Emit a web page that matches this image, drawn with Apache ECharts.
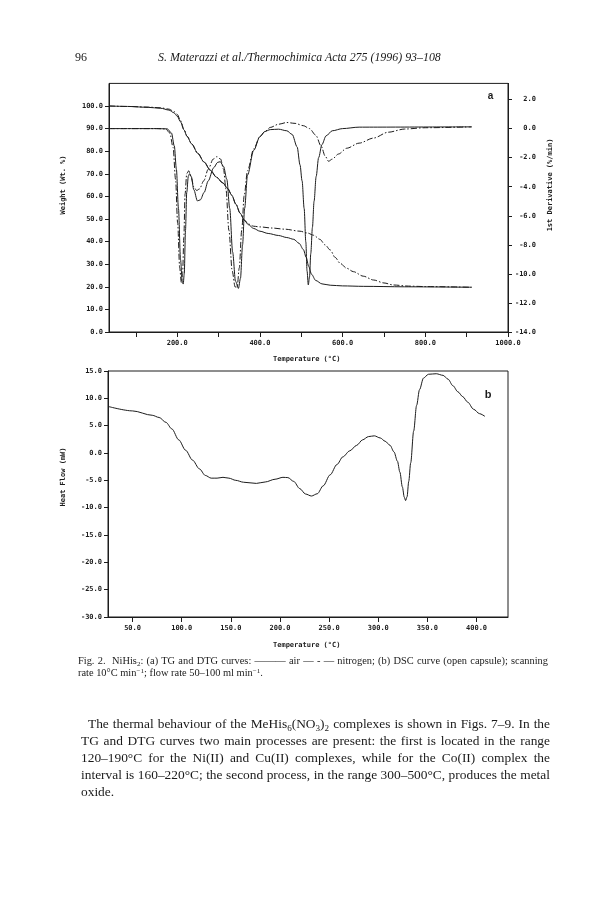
<!DOCTYPE html>
<html>
<head>
<meta charset="utf-8">
<script src="https://cdn.jsdelivr.net/npm/echarts@6/dist/echarts.min.js"></script>
<style>
  html, body { margin:0; padding:0; background:#fff; }
  #page { position:relative; width:615px; height:903px; overflow:hidden; background:#fff; }
  #chart { position:absolute; left:0; top:0; width:615px; height:903px; }
  .txt { position:absolute; font-family:"Liberation Serif","DejaVu Serif",serif; color:#1a1a1a; }
  .txt .ln { white-space:nowrap; text-align:justify; text-align-last:justify; }
  .txt .ln.last { text-align-last:left; }
  sub, sup { font-size:0.68em; line-height:0; }
  sub { vertical-align:-0.3em; }
  sup { vertical-align:0.45em; }
</style>
</head>
<body>
<div id="page">
  <div id="chart"></div>
  <div class="txt" style="left:75px; top:50px; font-size:12px;">96</div>
  <div class="txt" style="left:158px; top:50px; font-size:11.9px; font-style:italic;">S. Materazzi et al./Thermochimica Acta 275 (1996) 93–108</div>
  <div class="txt" style="left:78px; top:655px; width:470px; font-size:10.4px; line-height:12px;">
    <div class="ln" style="white-space:normal;">Fig. 2.&nbsp; NiHis<sub>2</sub>: (a) TG and DTG curves: ——— air — - — nitrogen; (b) DSC curve (open capsule); scanning</div>
    <div class="ln last">rate 10°C min<sup>−1</sup>; flow rate 50–100 ml min<sup>−1</sup>.</div>
  </div>
  <div class="txt" style="left:81px; top:715px; width:469px; font-size:13.4px; line-height:17px;">
    <div class="ln" style="white-space:normal; padding-left:7px;">The thermal behaviour of the MeHis<sub>6</sub>(NO<sub>3</sub>)<sub>2</sub> complexes is shown in Figs. 7–9. In the</div>
    <div class="ln" style="white-space:normal;">TG and DTG curves two main processes are present: the first is located in the range</div>
    <div class="ln" style="white-space:normal;">120–190°C for the Ni(II) and Cu(II) complexes, while for the Co(II) complex the</div>
    <div class="ln" style="white-space:normal;">interval is 160–220°C; the second process, in the range 300–500°C, produces the metal</div>
    <div class="ln last">oxide.</div>
  </div>
</div>
<script>
// ---- Data (temperature °C, value) ----
const tgAir = [[35,100],[80,99.8],[130,99.4],[160,99],[180,98.2],[192,97],[200,95.5],[208,93],[216,89.5],[224,86.5],[235,83.2],[250,79],[265,75.2],[280,71.6],[295,68.5],[310,66],[322,63.5],[332,60.5],[342,56.5],[352,52.6],[362,49.5],[372,47.5],[385,45.8],[400,44.6],[420,43.6],[445,42.7],[465,41.8],[482,41],[495,39.2],[505,36.5],[512,33],[518,29],[525,25.5],[535,22.8],[550,21.3],[570,20.7],[600,20.4],[650,20.2],[750,20],[912,19.8]];
const tgN2 = [[35,100],[80,99.8],[130,99.5],[160,99.2],[180,98.6],[192,97.6],[200,96.3],[208,93.6],[216,89.8],[224,86.6],[235,83.2],[250,79],[265,75.2],[280,71.6],[295,68.5],[310,66],[322,63.5],[332,60.5],[342,56.5],[352,52.6],[362,49.6],[372,47.8],[385,46.8],[400,46.5],[430,46],[460,45.5],[497,44.6],[515,43.8],[530,42.8],[545,41],[558,38.5],[570,36.3],[582,33],[594,30.4],[610,28.2],[626,26.7],[650,24.7],[675,23],[700,21.7],[723,20.8],[760,20.3],[800,20.1],[912,19.8]];
const dtgAir = [[35,0],[150,0],[176,-0.02],[186,-0.3],[193,-1.2],[198,-2.8],[203,-5.5],[208,-9.0],[212,-10.5],[214.5,-10.7],[217,-10.0],[220,-7.0],[223,-4.4],[227,-3.25],[230,-3.1],[234,-3.3],[240,-4.2],[249,-4.98],[256,-4.9],[265,-4.4],[275,-3.6],[288,-2.7],[298,-2.32],[304,-2.28],[312,-2.6],[320,-3.5],[327,-5.5],[334,-8.5],[341,-10.5],[348,-11.0],[353,-10.3],[358,-8],[363,-5.5],[370,-3.2],[385,-1.5],[400,-0.55],[412,-0.2],[425,-0.07],[445,-0.04],[465,-0.15],[478,-0.4],[490,-1.26],[497,-2.5],[502,-3.6],[507,-5.5],[511,-7.8],[514,-9.8],[517,-10.76],[520,-10.2],[523,-8.6],[527,-6.8],[531,-5.0],[536,-3.3],[542,-2.0],[550,-1.1],[560,-0.5],[575,-0.15],[600,0],[640,0.1],[912,0.12]];
const dtgN2 = [[35,0],[150,0],[172,-0.02],[182,-0.3],[190,-1.3],[196,-3.5],[201,-6.5],[206,-9.6],[210,-10.6],[213,-10.0],[216,-7.5],[219,-4.5],[223,-3.1],[228,-2.9],[234,-3.4],[240,-4.0],[247,-4.26],[254,-4.15],[264,-3.6],[275,-2.8],[287,-2.1],[296,-1.93],[305,-2.1],[312,-2.8],[318,-4.2],[325,-7],[333,-9.8],[340,-10.9],[345,-10.9],[350,-9.6],[356,-7],[362,-4.6],[370,-2.9],[385,-1.4],[400,-0.55],[412,-0.2],[425,0.08],[445,0.3],[465,0.42],[485,0.36],[505,0.2],[520,0.0],[535,-0.45],[548,-1.2],[558,-1.9],[566,-2.25],[575,-2.1],[590,-1.75],[610,-1.35],[640,-1.0],[675,-0.65],[710,-0.25],[750,-0.03],[800,0.06],[912,0.12]];
const dsc = [[25.5,8.5],[50,7.7],[70,6.9],[77,6.5],[84,5.6],[90,4.4],[97,2.4],[104,0.5],[111,-1.3],[118,-2.9],[124,-4.1],[130,-4.6],[136,-4.6],[142,-4.45],[148,-4.6],[155,-5.0],[163,-5.35],[176,-5.56],[185,-5.3],[195,-4.8],[203,-4.45],[208,-4.5],[214,-5.2],[220,-6.5],[226,-7.5],[232,-7.87],[238,-7.45],[244,-6.0],[251,-4.0],[258,-2.1],[264,-0.7],[271,0.4],[278,1.4],[284,2.4],[290,3.0],[296,3.14],[302,2.75],[307,2.15],[312,1.4],[316,0.2],[319.5,-1.5],[322,-3.5],[324.5,-6.2],[326.5,-8.1],[327.8,-8.7],[329.3,-8.0],[331,-5.2],[333,-1.8],[336,4.0],[339,8.7],[342,11.6],[346,13.7],[351,14.4],[359,14.5],[366,14.2],[371,13.5],[376,12.3],[381,11.2],[386,10.3],[391,9.3],[397,8.0],[403,7.2],[408.5,6.7]];
const topXTicks = [100,200,300,400,500,600,700,800,900,1000];
const topXLabels = [200,400,600,800,1000];
const wtTicks = [0,10,20,30,40,50,60,70,80,90,100];
const derivTicks = [-14,-12,-10,-8,-6,-4,-2,0,2];
const dscXTicks = [50,100,150,200,250,300,350,400];
const dscYTicks = [-30,-25,-20,-15,-10,-5,0,5,10,15];

const ink = '#1c1c1c';
const mono = '"DejaVu Sans Mono","Liberation Mono",monospace';
const lab = { fontSize:7, fontFamily:mono, fontWeight:'bold', color:ink };
const fmt = v => Number(v).toFixed(1);

function xAx(grid, min, max, ticks, labels) {
  return { type:'value', gridIndex:grid, min:min, max:max,
    axisLine:{ show:true, onZero:false, lineStyle:{ color:ink, width:1 } },
    axisTick:{ show:true, inside:false, length:5, customValues:ticks, lineStyle:{ color:ink } },
    axisLabel:Object.assign({ customValues:labels, formatter:fmt, margin:8, showMinLabel:true, showMaxLabel:true }, lab),
    splitLine:{ show:false } };
}
function yAx(grid, min, max, ticks, pos, margin, align) {
  return { type:'value', gridIndex:grid, min:min, max:max, position:pos,
    axisLine:{ show:true, onZero:false, lineStyle:{ color:ink, width:1 } },
    axisTick:{ show:true, inside:false, length:4, customValues:ticks, lineStyle:{ color:ink } },
    axisLabel:Object.assign({ customValues:ticks, formatter:fmt, margin:margin, align:align }, lab),
    splitLine:{ show:false } };
}
const rightMax = -14 + 110 * 14 / 90;

const line = (data, xi, yi, dash) => ({
  type:'line', data:data, xAxisIndex:xi, yAxisIndex:yi, showSymbol:false, symbol:'none',
  smooth:0.3, smoothMonotone:'x', animation:false, silent:true,
  lineStyle:{ color:ink, width:1, type: dash ? [6,2,1.5,2] : 'solid' }
});

const nameText = (x, y, text, rot) => ({
  type:'text', x:x, y:y, rotation: rot ? Math.PI/2 : 0, silent:true,
  style:{ text:text, fill:ink, font:'bold 7px ' + mono, align:'center', verticalAlign:'middle' }
});

const chart = echarts.init(document.getElementById('chart'), null, { renderer:'canvas' });
chart.setOption({
  backgroundColor:'#ffffff',
  animation:false,
  grid:[
    { left:109, top:83.4, width:399, height:248.6, show:true, borderColor:ink, borderWidth:1, backgroundColor:'transparent' },
    { left:108, top:371, width:400, height:246, show:true, borderColor:ink, borderWidth:1, backgroundColor:'transparent' }
  ],
  xAxis:[ xAx(0, 35, 1000, topXTicks, topXLabels), xAx(1, 25, 432, dscXTicks, dscXTicks) ],
  yAxis:[
    yAx(0, 0, 110, wtTicks, 'left', 6, 'right'),
    yAx(0, -14, rightMax, derivTicks, 'right', 28, 'right'),
    yAx(1, -30, 15, dscYTicks, 'left', 6, 'right')
  ],
  series:[
    line(tgAir, 0, 0, false),
    line(tgN2, 0, 0, true),
    line(dtgAir, 0, 1, false),
    line(dtgN2, 0, 1, true),
    line(dsc, 1, 2, false)
  ],
  graphic:[
    nameText(63, 185, 'Weight (Wt. %)', true),
    nameText(550, 185, '1st Derivative (%/min)', true),
    nameText(306.7, 359, 'Temperature (°C)', false),
    nameText(63, 477, 'Heat Flow (mW)', true),
    nameText(306.7, 645, 'Temperature (°C)', false),
    { type:'text', x:490.5, y:96.5, silent:true, style:{ text:'a', fill:ink, font:'bold 10px "Liberation Sans",Arial,sans-serif', align:'center', verticalAlign:'middle' } },
    { type:'text', x:488, y:394.5, silent:true, style:{ text:'b', fill:ink, font:'bold 11px "Liberation Sans",Arial,sans-serif', align:'center', verticalAlign:'middle' } }
  ]
});
</script>
</body>
</html>
